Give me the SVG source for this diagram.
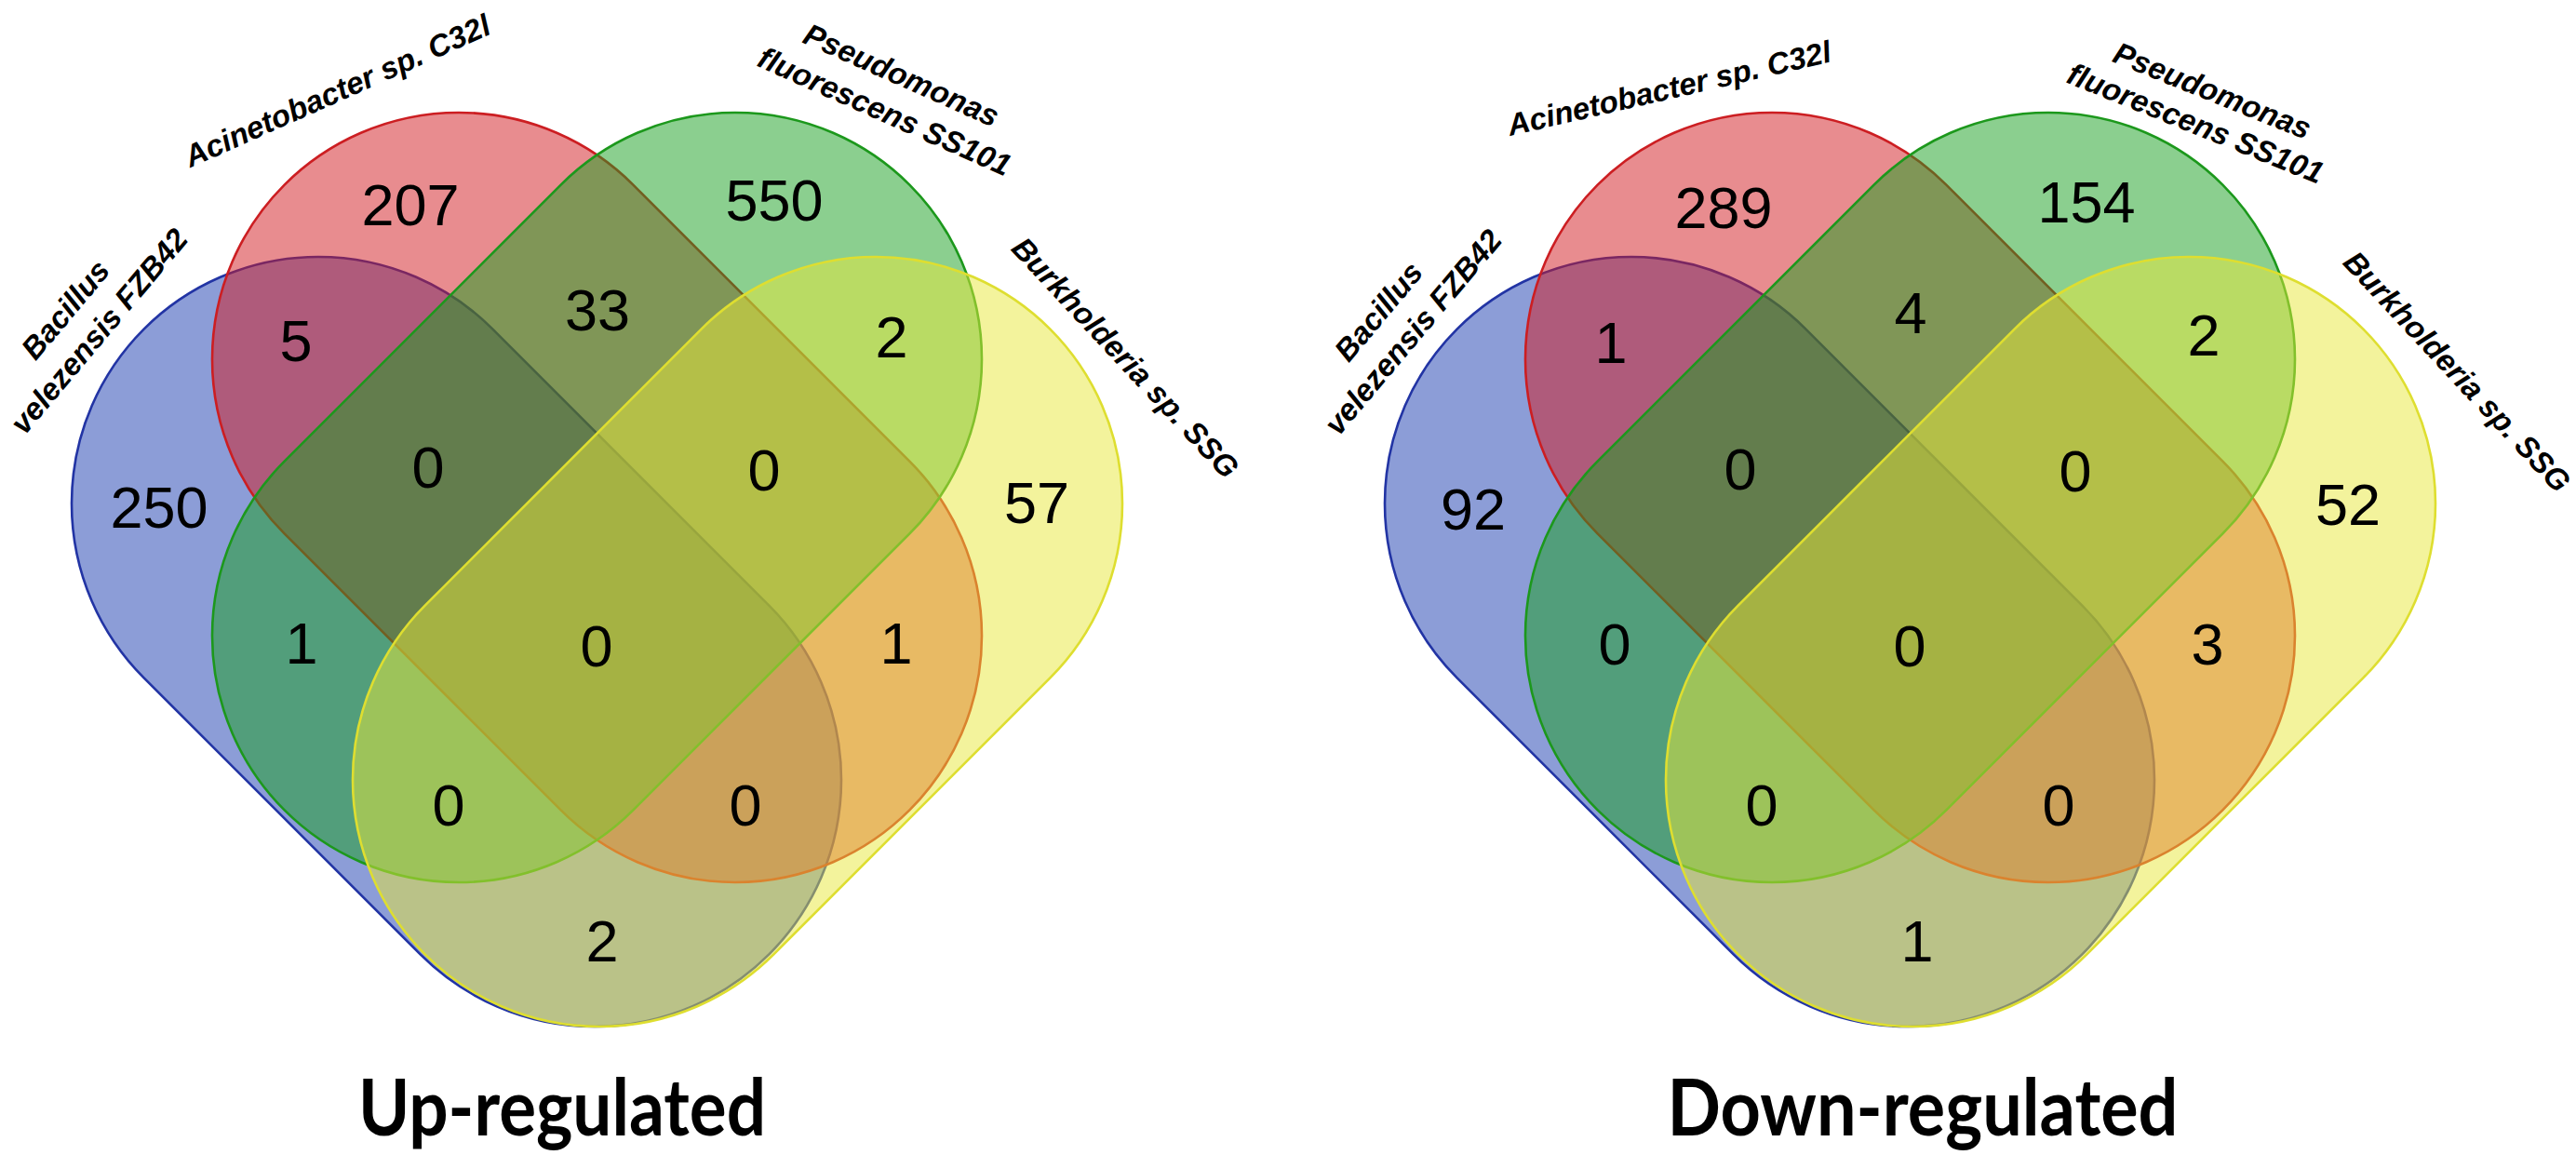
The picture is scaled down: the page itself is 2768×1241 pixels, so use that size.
<svg xmlns="http://www.w3.org/2000/svg" width="2768" height="1241" viewBox="0 0 2768 1241">
<style>
.bg{fill:#ffffff}
.set{stroke-width:2.6;fill-opacity:0.5}
.blue{fill:#1a3cb0;stroke:#2234a4}
.red{fill:#d21a1f;stroke:#cc1e22}
.green{fill:#17a01f;stroke:#1c981c}
.yellow{fill:#e8e83a;stroke:#dede30}
.num{font-family:"Liberation Sans",Arial,sans-serif;font-size:63px;text-anchor:middle;fill:#000000}
.lab{font-family:"Liberation Sans",Arial,sans-serif;font-size:33px;font-weight:bold;font-style:italic;text-anchor:middle;fill:#000000}
.title{font-family:Lato,"Open Sans",sans-serif;font-size:84px;font-weight:bold;text-anchor:middle;fill:#000000}
</style>
<rect class="bg" x="0" y="0" width="2768" height="1241"/>

<g id="up-regulated">
  <g id="up-set-bacillus"><rect class="set blue" x="-475" y="-265" width="950" height="530" rx="265" ry="265" transform="translate(490.5,689.5) rotate(45)"/></g>
  <g id="up-set-acinetobacter"><rect class="set red" x="-475" y="-265" width="950" height="530" rx="265" ry="265" transform="translate(641.5,534.5) rotate(45)"/></g>
  <g id="up-set-pseudomonas"><rect class="set green" x="-475" y="-265" width="950" height="530" rx="265" ry="265" transform="translate(641.5,534.5) rotate(-45)"/></g>
  <g id="up-set-burkholderia"><rect class="set yellow" x="-475" y="-265" width="950" height="530" rx="265" ry="265" transform="translate(792.5,689.5) rotate(-45)"/></g>
  <g id="up-connectors"></g>
  <g id="up-labels">
    <text class="lab" transform="translate(79,340) rotate(-50)">Bacillus</text>
    <text class="lab" transform="translate(115,363) rotate(-50)">velezensis FZB42</text>
    <text class="lab" transform="translate(367,108) rotate(-24)">Acinetobacter sp. C32l</text>
    <text class="lab" transform="translate(964,91) rotate(24)">Pseudomonas</text>
    <text class="lab" transform="translate(946,130) rotate(24)">fluorescens SS101</text>
    <text class="lab" transform="translate(1201,392) rotate(47)">Burkholderia sp. SSG</text>
  </g>
  <g id="up-counts">
    <text class="num" x="441" y="242">207</text>
    <text class="num" x="832" y="237">550</text>
    <text class="num" x="642" y="355">33</text>
    <text class="num" x="318" y="388">5</text>
    <text class="num" x="958" y="384">2</text>
    <text class="num" x="460" y="524">0</text>
    <text class="num" x="821" y="527">0</text>
    <text class="num" x="171" y="567">250</text>
    <text class="num" x="1114" y="562">57</text>
    <text class="num" x="324" y="713">1</text>
    <text class="num" x="641" y="716">0</text>
    <text class="num" x="963" y="713">1</text>
    <text class="num" x="482" y="887">0</text>
    <text class="num" x="801" y="887">0</text>
    <text class="num" x="647" y="1033">2</text>
  </g>
  <text id="up-title" class="title" x="604" y="1220" textLength="438" lengthAdjust="spacingAndGlyphs">Up-regulated</text>
</g>

<g id="down-regulated">
  <g id="down-set-bacillus"><rect class="set blue" x="-475" y="-265" width="950" height="530" rx="265" ry="265" transform="translate(1901.5,689.5) rotate(45)"/></g>
  <g id="down-set-acinetobacter"><rect class="set red" x="-475" y="-265" width="950" height="530" rx="265" ry="265" transform="translate(2052.5,534.5) rotate(45)"/></g>
  <g id="down-set-pseudomonas"><rect class="set green" x="-475" y="-265" width="950" height="530" rx="265" ry="265" transform="translate(2052.5,534.5) rotate(-45)"/></g>
  <g id="down-set-burkholderia"><rect class="set yellow" x="-475" y="-265" width="950" height="530" rx="265" ry="265" transform="translate(2203.5,689.5) rotate(-45)"/></g>
  <g id="down-connectors"></g>
  <g id="down-labels">
    <text class="lab" transform="translate(1490,342) rotate(-50)">Bacillus</text>
    <text class="lab" transform="translate(1527,364) rotate(-50)">velezensis FZB42</text>
    <text class="lab" transform="translate(1796,106) rotate(-13)">Acinetobacter sp. C32l</text>
    <text class="lab" transform="translate(2373,108) rotate(22)">Pseudomonas</text>
    <text class="lab" transform="translate(2355,143) rotate(22)">fluorescens SS101</text>
    <text class="lab" transform="translate(2632,407) rotate(47)">Burkholderia sp. SSG</text>
  </g>
  <g id="down-counts">
    <text class="num" x="1852" y="245">289</text>
    <text class="num" x="2242" y="239">154</text>
    <text class="num" x="1731" y="390">1</text>
    <text class="num" x="2053" y="358">4</text>
    <text class="num" x="2368" y="382">2</text>
    <text class="num" x="1870" y="526">0</text>
    <text class="num" x="2230" y="528">0</text>
    <text class="num" x="1583" y="569">92</text>
    <text class="num" x="2523" y="564">52</text>
    <text class="num" x="1735" y="714">0</text>
    <text class="num" x="2052" y="716">0</text>
    <text class="num" x="2372" y="714">3</text>
    <text class="num" x="1893" y="887">0</text>
    <text class="num" x="2212" y="887">0</text>
    <text class="num" x="2060" y="1033">1</text>
  </g>
  <text id="down-title" class="title" x="2066" y="1220" textLength="549" lengthAdjust="spacingAndGlyphs">Down-regulated</text>
</g>
</svg>
